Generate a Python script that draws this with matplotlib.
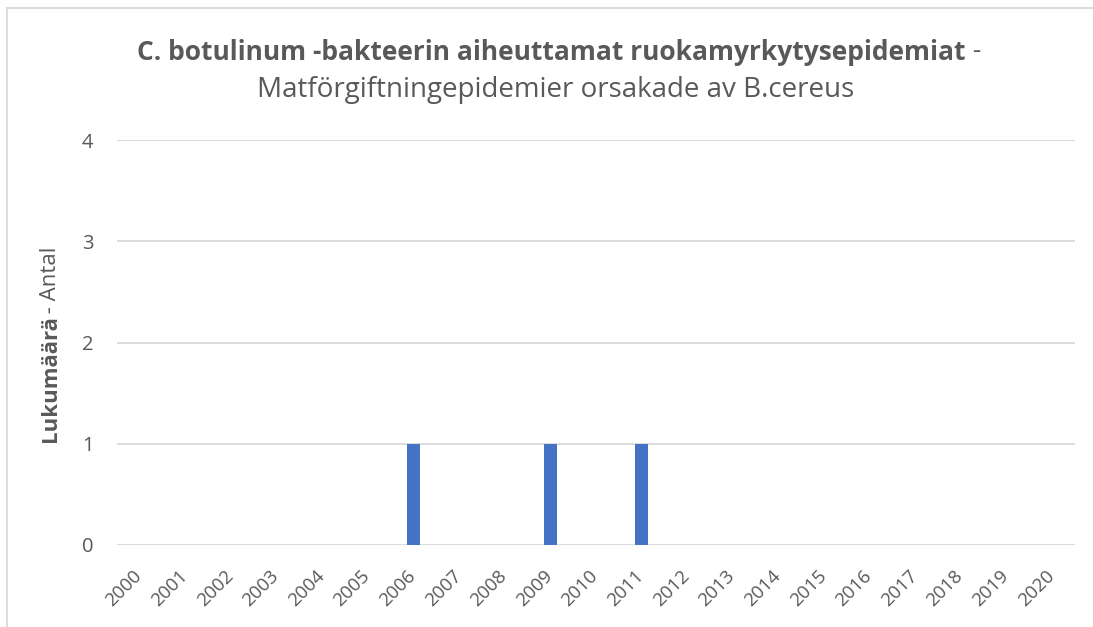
import matplotlib
matplotlib.use("Agg")
import matplotlib.pyplot as plt
import matplotlib.transforms as mtransforms
from matplotlib.lines import Line2D

years = [str(y) for y in range(2000, 2021)]
counts = [0, 0, 0, 0, 0, 0, 1, 0, 0, 1, 0, 1, 0, 0, 0, 0, 0, 0, 0, 0, 0]
yticks = [0, 1, 2, 3, 4]
title_bold = "C. botulinum -bakteerin aiheuttamat ruokamyrkytysepidemiat"
title_rest = " -"
title_line2 = "Matförgiftningepidemier orsakade av B.cereus"
ylabel_bold = "Lukumäärä"
ylabel_rest = " - Antal"

FONT = "Open Sans"
TXT = "#595959"
GRID = "#d9d9d9"
BAR = "#4472c4"

fig = plt.figure(figsize=(10.93, 6.27), dpi=100)
W, H = 1093, 627
ax = fig.add_axes([117 / W, 1 - 545 / H, (1075 - 117) / W, (545 - 140) / H])

x = list(range(len(years)))
ax.bar(x, counts, width=0.3, color=BAR, zorder=3)
ax.set_xlim(-0.5, len(years) - 0.5)
ax.set_ylim(0, 4)
ax.set_yticks(yticks)
ax.set_yticklabels([str(v) for v in yticks], fontsize=14.5, color=TXT, family=FONT)
ax.set_xticks(x)
ax.set_xticklabels(years, rotation=45, ha="right", va="top", rotation_mode="anchor",
                   fontsize=13.5, color=TXT, family=FONT)
ax.tick_params(axis="both", length=0)
ax.tick_params(axis="y", pad=17)
ax.tick_params(axis="x", pad=11)
for s in ax.spines.values():
    s.set_visible(False)
ax.grid(axis="y", color=GRID, linewidth=1.3, zorder=0)
ax.set_axisbelow(True)

offset = mtransforms.ScaledTranslation(-7 / 100, -7 / 100, fig.dpi_scale_trans)
for lab in ax.get_xticklabels():
    lab.set_transform(lab.get_transform() + offset)

# chart-area border (left and top visible)
fig.add_artist(Line2D([7 / W, 7 / W], [0, 1 - 8 / H], color=GRID, lw=1.3, transform=fig.transFigure))
fig.add_artist(Line2D([7 / W, 1], [1 - 8 / H, 1 - 8 / H], color=GRID, lw=1.3, transform=fig.transFigure))

renderer = fig.canvas.get_renderer()

# Title line 1: bold + normal, centered
cx = 559 / W
y1 = 1 - 52 / H
t1 = fig.text(0, y1, title_bold, fontsize=19, fontweight="bold", color=TXT, family=FONT,
              ha="left", va="center")
t2 = fig.text(0, y1, title_rest, fontsize=19, color=TXT, family=FONT, ha="left", va="center")
w1 = t1.get_window_extent(renderer).width
w2 = t2.get_window_extent(renderer).width
start = cx * W - (w1 + w2) / 2
t1.set_x(start / W)
t2.set_x((start + w1) / W)

fig.text(556 / W, 1 - 90 / H, title_line2, fontsize=20, color=TXT, family=FONT, ha="center", va="center")

# Y label: bold + normal, rotated
ly_c = 342
lx = 50 / W
y_a = fig.text(lx, 0, ylabel_bold, fontsize=16, fontweight="bold", color=TXT, family=FONT,
               rotation=90, ha="center", va="bottom")
y_b = fig.text(lx, 0, ylabel_rest, fontsize=16, color=TXT, family=FONT,
               rotation=90, ha="center", va="bottom")
h1 = y_a.get_window_extent(renderer).height
h2 = y_b.get_window_extent(renderer).height
bottom = (H - ly_c) - (h1 + h2) / 2
y_a.set_y(bottom / H)
y_b.set_y((bottom + h1 - 4) / H)

fig.savefig("out.png", dpi=100, facecolor="white")
